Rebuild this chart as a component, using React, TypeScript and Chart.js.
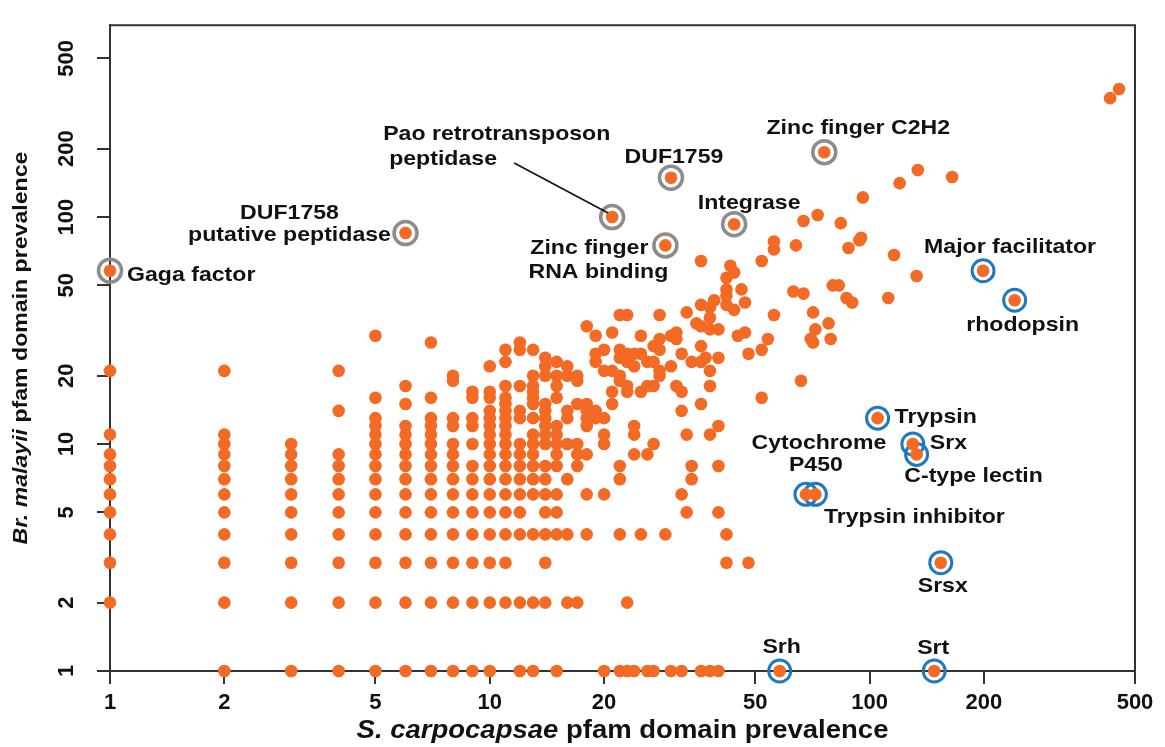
import React, { useEffect, useRef } from "react";
import { Chart, registerables } from "chart.js";

Chart.register(...registerables);

// ---------------- DATA ----------------
const xTickValues = [1, 2, 5, 10, 20, 50, 100, 200, 500];
const yTickValues = [1, 2, 5, 10, 20, 50, 100, 200, 500];

// S. carpocapsae pfam domain counts (one entry per column of points)
const scCounts = [
  1, 2, 3, 4, 5, 6, 7, 8, 9, 10, 11, 12, 13, 14, 15, 16, 17, 18, 19, 20,
  21, 22, 23, 24, 25, 26, 27, 28, 29, 30, 31, 32, 33, 34, 35, 36, 37, 38, 39, 40,
  42, 43, 44, 45, 46, 47, 48, 52, 54, 56, 63, 64, 66, 67, 70, 71, 72, 73, 78, 79,
  80, 83, 84, 87, 88, 90, 94, 95, 96, 112, 116, 120, 133, 134, 165, 430, 454,
];

// Br. malayi pfam domain counts found for each S. carpocapsae count above
const bmCountsByScCount = [
  [2, 3, 4, 5, 6, 7, 8, 9, 11, 21],
  [1, 2, 3, 4, 5, 6, 7, 8, 9, 10, 11, 21],
  [1, 2, 3, 4, 5, 6, 7, 8, 9, 10],
  [1, 2, 3, 4, 5, 6, 7, 8, 9, 14, 21],
  [1, 2, 3, 4, 5, 6, 7, 8, 9, 10, 11, 12, 13, 16, 30],
  [1, 2, 3, 4, 5, 6, 7, 8, 9, 10, 11, 12, 15, 18],
  [1, 2, 3, 4, 5, 6, 7, 8, 9, 10, 11, 12, 13, 16, 28],
  [1, 2, 3, 4, 5, 6, 7, 8, 9, 10, 12, 13, 19, 20],
  [1, 2, 3, 4, 5, 6, 7, 8, 10, 12, 13, 16, 17],
  [1, 2, 3, 4, 5, 6, 7, 8, 9, 10, 11, 12, 13, 14, 16, 17, 22],
  [2, 3, 4, 5, 6, 7, 8, 9, 10, 11, 12, 13, 14, 15, 16, 18, 23, 26],
  [1, 2, 4, 5, 6, 7, 8, 9, 10, 13, 14, 18, 26, 28],
  [1, 2, 4, 6, 7, 8, 9, 10, 11, 13, 15, 16, 17, 18, 20, 26],
  [2, 3, 4, 5, 6, 7, 8, 10, 11, 12, 13, 14, 15, 20, 22, 24],
  [1, 4, 5, 6, 8, 9, 10, 11, 12, 16, 18, 20, 23],
  [2, 4, 7, 10, 13, 14, 20, 22],
  [2, 8, 9, 10, 15, 19, 20],
  [4, 6, 9, 12, 13, 14, 15, 33],
  [13, 14, 23, 25, 30],
  [1, 6, 10, 11, 13, 21, 26],
  [15, 17, 21, 31],
  [1, 4, 7, 8, 19, 20, 24, 26, 37],
  [1, 2, 17, 18, 23, 25, 37],
  [1, 9, 11, 12, 22, 25],
  [4, 17, 25, 30],
  [1, 9, 18, 23],
  [1, 10, 18, 23, 27],
  [20, 21, 26, 29, 37],
  [4],
  [1, 22, 30],
  [18, 29, 31],
  [1, 6, 14, 17, 25],
  [5, 11, 38],
  [7, 8, 23],
  [34],
  [1, 15, 23, 27, 33, 41, 64],
  [24],
  [1, 11, 18, 21, 32, 36, 40],
  [43],
  [1, 5, 8, 12, 24, 32],
  [3, 4, 41, 45, 48, 54],
  [61],
  [39, 57],
  [30],
  [48],
  [31, 42],
  [3, 25],
  [16, 26, 64],
  [29],
  [37, 72, 78],
  [47],
  [75],
  [19],
  [46, 96],
  [29],
  [28, 38],
  [32],
  [102],
  [34],
  [29],
  [50],
  [50],
  [94],
  [44],
  [73],
  [42],
  [79],
  [81],
  [122],
  [44],
  [68],
  [141],
  [55],
  [161],
  [150],
  [334],
  [366],
];

// Domains expanded in B. malayi (grey rings)
const grayNames = [
  "Gaga factor",
  "DUF1758 putative peptidase",
  "Pao retrotransposon peptidase",
  "DUF1759",
  "Zinc finger RNA binding",
  "Integrase",
  "Zinc finger C2H2",
];
const grayX = [1, 6, 21, 30, 29, 44, 76];
const grayY = [58, 85, 100, 149, 75, 93, 193];

// Domains expanded in S. carpocapsae (blue rings)
const blueNames = [
  "Major facilitator",
  "rhodopsin",
  "Trypsin",
  "Srx",
  "C-type lectin",
  "Cytochrome P450",
  "Trypsin inhibitor",
  "Srsx",
  "Srh",
  "Srt",
];
const blueX = [199, 241, 105, 130, 133, 68, 72, 154, 58, 148];
const blueY = [58, 43, 13, 10, 9, 6, 6, 3, 1, 1];

// ---------------- STYLE / LAYOUT ----------------
const ORANGE = "#F26A24";
const GRAY_RING = "#8C8C8C";
const BLUE_RING = "#1D79C3";
const AXIS = "#333333";
const TEXT = "#111111";
const FONT = '"Liberation Sans", Arial, Helvetica, sans-serif';
const STRETCH = 1.1;

type LabelLine = { text: string; dx: number; dy: number; align: "left" | "center" | "right" };
const labelLayout: Record<string, LabelLine[]> = {
  "Gaga factor": [{ text: "Gaga factor", dx: 17, dy: 4, align: "left" }],
  "DUF1758 putative peptidase": [
    { text: "DUF1758", dx: -116, dy: -20, align: "center" },
    { text: "putative peptidase", dx: -116, dy: 2, align: "center" },
  ],
  "Pao retrotransposon peptidase": [
    { text: "Pao retrotransposon", dx: -229, dy: -83, align: "left" },
    { text: "peptidase", dx: -223, dy: -58, align: "left" },
  ],
  DUF1759: [{ text: "DUF1759", dx: 3, dy: -21, align: "center" }],
  "Zinc finger RNA binding": [
    { text: "Zinc finger", dx: -76, dy: 3, align: "center" },
    { text: "RNA binding", dx: -67, dy: 27, align: "center" },
  ],
  Integrase: [{ text: "Integrase", dx: 15, dy: -21, align: "center" }],
  "Zinc finger C2H2": [{ text: "Zinc finger C2H2", dx: 34, dy: -24, align: "center" }],
  "Major facilitator": [{ text: "Major facilitator", dx: 27, dy: -24, align: "center" }],
  rhodopsin: [{ text: "rhodopsin", dx: 8, dy: 25, align: "center" }],
  Trypsin: [{ text: "Trypsin", dx: 17, dy: -1, align: "left" }],
  Srx: [{ text: "Srx", dx: 17, dy: -1, align: "left" }],
  "C-type lectin": [{ text: "C-type lectin", dx: 57, dy: 22, align: "center" }],
  "Cytochrome P450": [
    { text: "Cytochrome", dx: 13, dy: -51, align: "center" },
    { text: "P450", dx: 10, dy: -29, align: "center" },
  ],
  "Trypsin inhibitor": [{ text: "Trypsin inhibitor", dx: 99, dy: 23, align: "center" }],
  Srsx: [{ text: "Srsx", dx: 2, dy: 24, align: "center" }],
  Srh: [{ text: "Srh", dx: 2, dy: -24, align: "center" }],
  Srt: [{ text: "Srt", dx: -1, dy: -23, align: "center" }],
};

function drawStretched(ctx: CanvasRenderingContext2D, text: string, x: number, y: number, align: string) {
  const w = ctx.measureText(text).width * STRETCH;
  let left = x;
  if (align === "center") left = x - w / 2;
  else if (align === "right") left = x - w;
  ctx.save();
  ctx.translate(left, y);
  ctx.scale(STRETCH, 1);
  ctx.textAlign = "left";
  ctx.fillText(text, 0, 0);
  ctx.restore();
}

type Seg = { text: string; italic: boolean };
function drawRich(ctx: CanvasRenderingContext2D, segs: Seg[], size: number, cx: number, cy: number, rot: number) {
  const fontOf = (s: Seg) => `${s.italic ? "italic " : ""}bold ${size}px ${FONT}`;
  let total = 0;
  const widths = segs.map((s) => {
    ctx.font = fontOf(s);
    const w = ctx.measureText(s.text).width;
    total += w;
    return w;
  });
  ctx.save();
  ctx.translate(cx, cy);
  ctx.rotate(rot);
  ctx.scale(STRETCH, 1);
  ctx.textAlign = "left";
  ctx.textBaseline = "middle";
  let pos = -total / 2;
  segs.forEach((s, i) => {
    ctx.font = fontOf(s);
    ctx.fillText(s.text, pos, 0);
    pos += widths[i];
  });
  ctx.restore();
}

const framePlugin = {
  id: "frame",
  beforeDatasetsDraw(chart: any) {
    const { ctx, chartArea } = chart;
    ctx.save();
    ctx.strokeStyle = AXIS;
    ctx.lineWidth = 2;
    ctx.beginPath();
    ctx.moveTo(chartArea.left, chartArea.top);
    ctx.lineTo(chartArea.right, chartArea.top);
    ctx.lineTo(chartArea.right, chartArea.bottom);
    ctx.stroke();
    ctx.restore();
  },
};

const labelPlugin = {
  id: "domainLabels",
  afterDatasetsDraw(chart: any) {
    const { ctx, chartArea } = chart;
    const xs = chart.scales.x;
    const ys = chart.scales.y;
    ctx.save();
    ctx.fillStyle = TEXT;
    ctx.textBaseline = "middle";
    ctx.font = `bold 21px ${FONT}`;
    const items = [
      ...grayNames.map((n, i) => ({ n, x: grayX[i], y: grayY[i] })),
      ...blueNames.map((n, i) => ({ n, x: blueX[i], y: blueY[i] })),
    ];
    for (const it of items) {
      const px = xs.getPixelForValue(it.x);
      const py = ys.getPixelForValue(it.y);
      for (const line of labelLayout[it.n] || []) {
        drawStretched(ctx, line.text, px + line.dx, py + line.dy, line.align);
      }
      if (it.n === "Pao retrotransposon peptidase") {
        ctx.save();
        ctx.strokeStyle = TEXT;
        ctx.lineWidth = 1.6;
        ctx.beginPath();
        ctx.moveTo(px - 98, py - 54);
        ctx.lineTo(px - 4, py - 4);
        ctx.stroke();
        ctx.restore();
      }
    }
    // axis titles
    const cx = (chartArea.left + chartArea.right) / 2;
    const cy = (chartArea.top + chartArea.bottom) / 2;
    drawRich(
      ctx,
      [
        { text: "S. carpocapsae", italic: true },
        { text: " pfam domain prevalence", italic: false },
      ],
      25,
      cx,
      chartArea.bottom + 60,
      0
    );
    drawRich(
      ctx,
      [
        { text: "Br. malayii", italic: true },
        { text: " pfam domain prevalence", italic: false },
      ],
      21,
      21,
      cy,
      -Math.PI / 2
    );
    ctx.restore();
  },
};

export default function App() {
  const canvasRef = useRef<HTMLCanvasElement | null>(null);

  useEffect(() => {
    if (!canvasRef.current) return;
    const mainPoints = scCounts.flatMap((sc, i) => bmCountsByScCount[i].map((bm) => ({ x: sc, y: bm })));
    const grayPoints = grayX.map((x, i) => ({ x, y: grayY[i] }));
    const bluePoints = blueX.map((x, i) => ({ x, y: blueY[i] }));

    const tickFont = { family: FONT, size: 22, weight: "bold" as const };

    const chart = new Chart(canvasRef.current, {
      type: "scatter",
      data: {
        datasets: [
          {
            label: "Pfam domains",
            data: [...mainPoints, ...grayPoints, ...bluePoints],
            pointRadius: 6.3,
            pointHoverRadius: 6.3,
            pointBorderWidth: 0,
            pointBackgroundColor: ORANGE,
            backgroundColor: ORANGE,
            clip: false,
            order: 0,
          },
          {
            label: "Expanded in Br. malayi",
            data: grayPoints,
            pointRadius: 11.5,
            pointHoverRadius: 11.5,
            pointBorderWidth: 3.5,
            pointBorderColor: GRAY_RING,
            pointBackgroundColor: "rgba(255,255,255,0)",
            clip: false,
            order: 1,
          },
          {
            label: "Expanded in S. carpocapsae",
            data: bluePoints,
            pointRadius: 11,
            pointHoverRadius: 11,
            pointBorderWidth: 3,
            pointBorderColor: BLUE_RING,
            pointBackgroundColor: "rgba(255,255,255,0)",
            clip: false,
            order: 1,
          },
        ],
      },
      options: {
        animation: false,
        responsive: true,
        maintainAspectRatio: false,
        events: [],
        layout: { padding: { top: 25, right: 30, bottom: 0, left: 0 } },
        plugins: {
          legend: { display: false },
          tooltip: { enabled: false },
          title: { display: false },
        },
        scales: {
          x: {
            type: "logarithmic",
            min: 1,
            max: 500,
            afterBuildTicks: (scale: any) => {
              scale.ticks = xTickValues.map((v) => ({ value: v }));
            },
            afterFit: (scale: any) => {
              scale.height = 76;
            },
            ticks: {
              callback: (v: any) => String(v),
              font: tickFont,
              color: TEXT,
              padding: 6,
              maxRotation: 0,
              minRotation: 0,
              autoSkip: false,
            },
            grid: {
              display: true,
              drawOnChartArea: false,
              drawTicks: true,
              tickLength: 13,
              color: AXIS,
              lineWidth: 2,
            },
            border: { display: true, color: AXIS, width: 2 },
          },
          y: {
            type: "logarithmic",
            min: 1,
            max: 700,
            afterBuildTicks: (scale: any) => {
              scale.ticks = yTickValues.map((v) => ({ value: v }));
            },
            afterFit: (scale: any) => {
              scale.width = 110;
            },
            ticks: {
              callback: (v: any) => String(v),
              font: tickFont,
              color: TEXT,
              padding: 12,
              minRotation: 90,
              maxRotation: 90,
              crossAlign: "center",
              autoSkip: false,
            },
            grid: {
              display: true,
              drawOnChartArea: false,
              drawTicks: true,
              tickLength: 13,
              color: AXIS,
              lineWidth: 2,
            },
            border: { display: true, color: AXIS, width: 2 },
          },
        },
      },
      plugins: [framePlugin, labelPlugin],
    } as any);

    return () => chart.destroy();
  }, []);

  return (
    <div
      style={{
        position: "fixed",
        left: 0,
        top: 0,
        width: 1165,
        height: 747,
        background: "#ffffff",
      }}
    >
      <canvas ref={canvasRef} />
    </div>
  );
}
